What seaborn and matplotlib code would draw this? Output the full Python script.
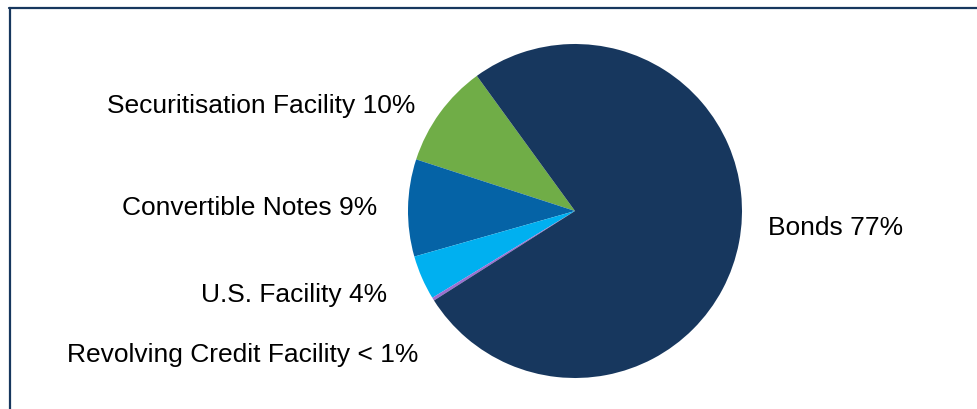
import matplotlib
matplotlib.use("Agg")
import matplotlib.pyplot as plt
from matplotlib.lines import Line2D
import seaborn as sns

sns.set_theme(style="white")
plt.rcParams["font.family"] = ["Liberation Sans", "DejaVu Sans"]

# Data (shares in %; drawn counter-clockwise from the top-left)
categories = ["Securitisation Facility", "Convertible Notes", "U.S. Facility",
              "Revolving Credit Facility", "Bonds"]
shares = [10.0, 9.4, 4.3, 0.3, 76.0]
labels = ["Securitisation Facility 10%", "Convertible Notes 9%", "U.S. Facility 4%",
          "Revolving Credit Facility < 1%", "Bonds 77%"]
colors = ["#70AD47", "#0563A6", "#00B0F0", "#9B6FD0", "#17375E"]

# label anchors (pie radius = 1)
label_pos = [(-0.958, 0.593, "right"), (-1.186, -0.018, "right"), (-1.126, -0.539, "right"),
             (-0.940, -0.898, "right"), (1.156, -0.138, "left")]

fig = plt.figure(figsize=(9.77, 4.10), dpi=100)
ax = fig.add_axes([0, 0, 1, 1])
ax.pie(shares, colors=colors, startangle=126, counterclock=True,
       wedgeprops={"linewidth": 0})

for (x, y, ha), txt in zip(label_pos, labels):
    ax.text(x, y, txt, ha=ha, va="baseline", fontsize=19, color="#000000")

# map pixels: centre at (575, 212), radius 167 px
r = 167.0
ax.set_xlim(-575 / r, (977 - 575) / r)
ax.set_ylim(-(410 - 212) / r, 212 / r)
ax.axis("off")

# frame: top and left edges only
border = "#17375E"
fig.add_artist(Line2D([9 / 977, 1.0], [1 - 9 / 410, 1 - 9 / 410], color=border,
                      linewidth=1.6, transform=fig.transFigure))
fig.add_artist(Line2D([9.5 / 977, 9.5 / 977], [0, 1 - 9 / 410], color=border,
                      linewidth=1.6, transform=fig.transFigure))

fig.savefig("out.png", dpi=100)
